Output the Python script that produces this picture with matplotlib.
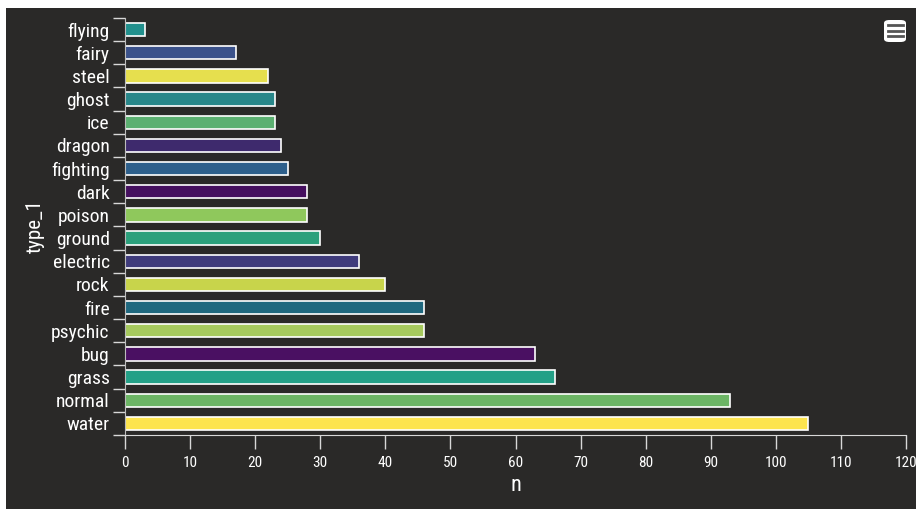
import matplotlib
matplotlib.use("Agg")
import matplotlib.pyplot as plt
from matplotlib.patches import Rectangle, FancyBboxPatch

# pokemon counts per primary type, top of chart first
types = ["flying", "fairy", "steel", "ghost", "ice", "dragon", "fighting", "dark",
         "poison", "ground", "electric", "rock", "fire", "psychic", "bug", "grass",
         "normal", "water"]
counts = [3, 17, 22, 23, 23, 24, 25, 28, 28, 30, 36, 40, 46, 46, 63, 66, 93, 105]
colors = ["#21908d", "#3b528b", "#e6df4e", "#28878a", "#5bb071", "#3e2a6d",
          "#2d5f8b", "#450f5f", "#8fc85c", "#2ba07c", "#3f3b7c", "#c8d44b",
          "#1f687f", "#a6c95e", "#4a1062", "#23a087", "#6cb565", "#fde44d"]
xticks = list(range(0, 121, 10))

BG = "#2a2928"
plt.rcParams["font.family"] = ["Roboto Condensed", "Liberation Sans Narrow", "DejaVu Sans"]

fig = plt.figure(figsize=(9.22, 5.17), dpi=100)
fig.patch.set_facecolor("white")
W, H = 922, 517
# chalkboard panel
fig.patches.append(Rectangle((6 / W, 1 - 509 / H), 910 / W, 501 / H,
                             transform=fig.transFigure, facecolor=BG,
                             edgecolor="none", zorder=-10))

ax = fig.add_axes([125 / W, 1 - 435 / H, 781 / W, 417 / H])
ax.set_zorder(1)
ax.set_facecolor("none")
ypos = list(range(len(types)))
ax.barh(ypos, counts, height=0.58, color=colors, edgecolor="white", linewidth=1.2)
ax.set_ylim(len(types) - 0.5, -0.5)
ax.set_xlim(0, 120)

ax.set_yticks(ypos)
ax.set_yticklabels(types, fontsize=14, color="white")
ax.set_yticks([i - 0.5 for i in range(len(types) + 1)], minor=True)
ax.tick_params(axis="y", which="major", length=0, pad=11)
ax.tick_params(axis="y", which="minor", length=9, color="#d8d8d8", width=1)

ax.set_xticks(xticks)
ax.set_xticklabels([str(t) for t in xticks], fontsize=11, color="white")
ax.tick_params(axis="x", length=10, color="#d8d8d8", width=1, pad=5)

for side in ["top", "right"]:
    ax.spines[side].set_visible(False)
ax.spines["left"].set_color("#bcbcbc")
ax.spines["bottom"].set_color("#d8d8d8")

ax.set_xlabel("n", fontsize=16, color="white", labelpad=4)
ax.set_ylabel("type_1", fontsize=15, color="white")
ax.yaxis.set_label_coords(-80 / 781, 0.5)

# export menu button, top right
fig.patches.append(FancyBboxPatch((884 / W, 1 - 42 / H), 22 / W, 22 / H,
                                  boxstyle="round,pad=0,rounding_size=0.006",
                                  transform=fig.transFigure, facecolor="white",
                                  edgecolor="none", zorder=3))
for yy in [25, 31, 36]:
    fig.add_artist(plt.Line2D([888 / W, 903 / W], [1 - yy / H, 1 - yy / H],
                              transform=fig.transFigure, color="#555555",
                              linewidth=2, zorder=4))

fig.savefig("out.png", dpi=100, facecolor=fig.get_facecolor())
